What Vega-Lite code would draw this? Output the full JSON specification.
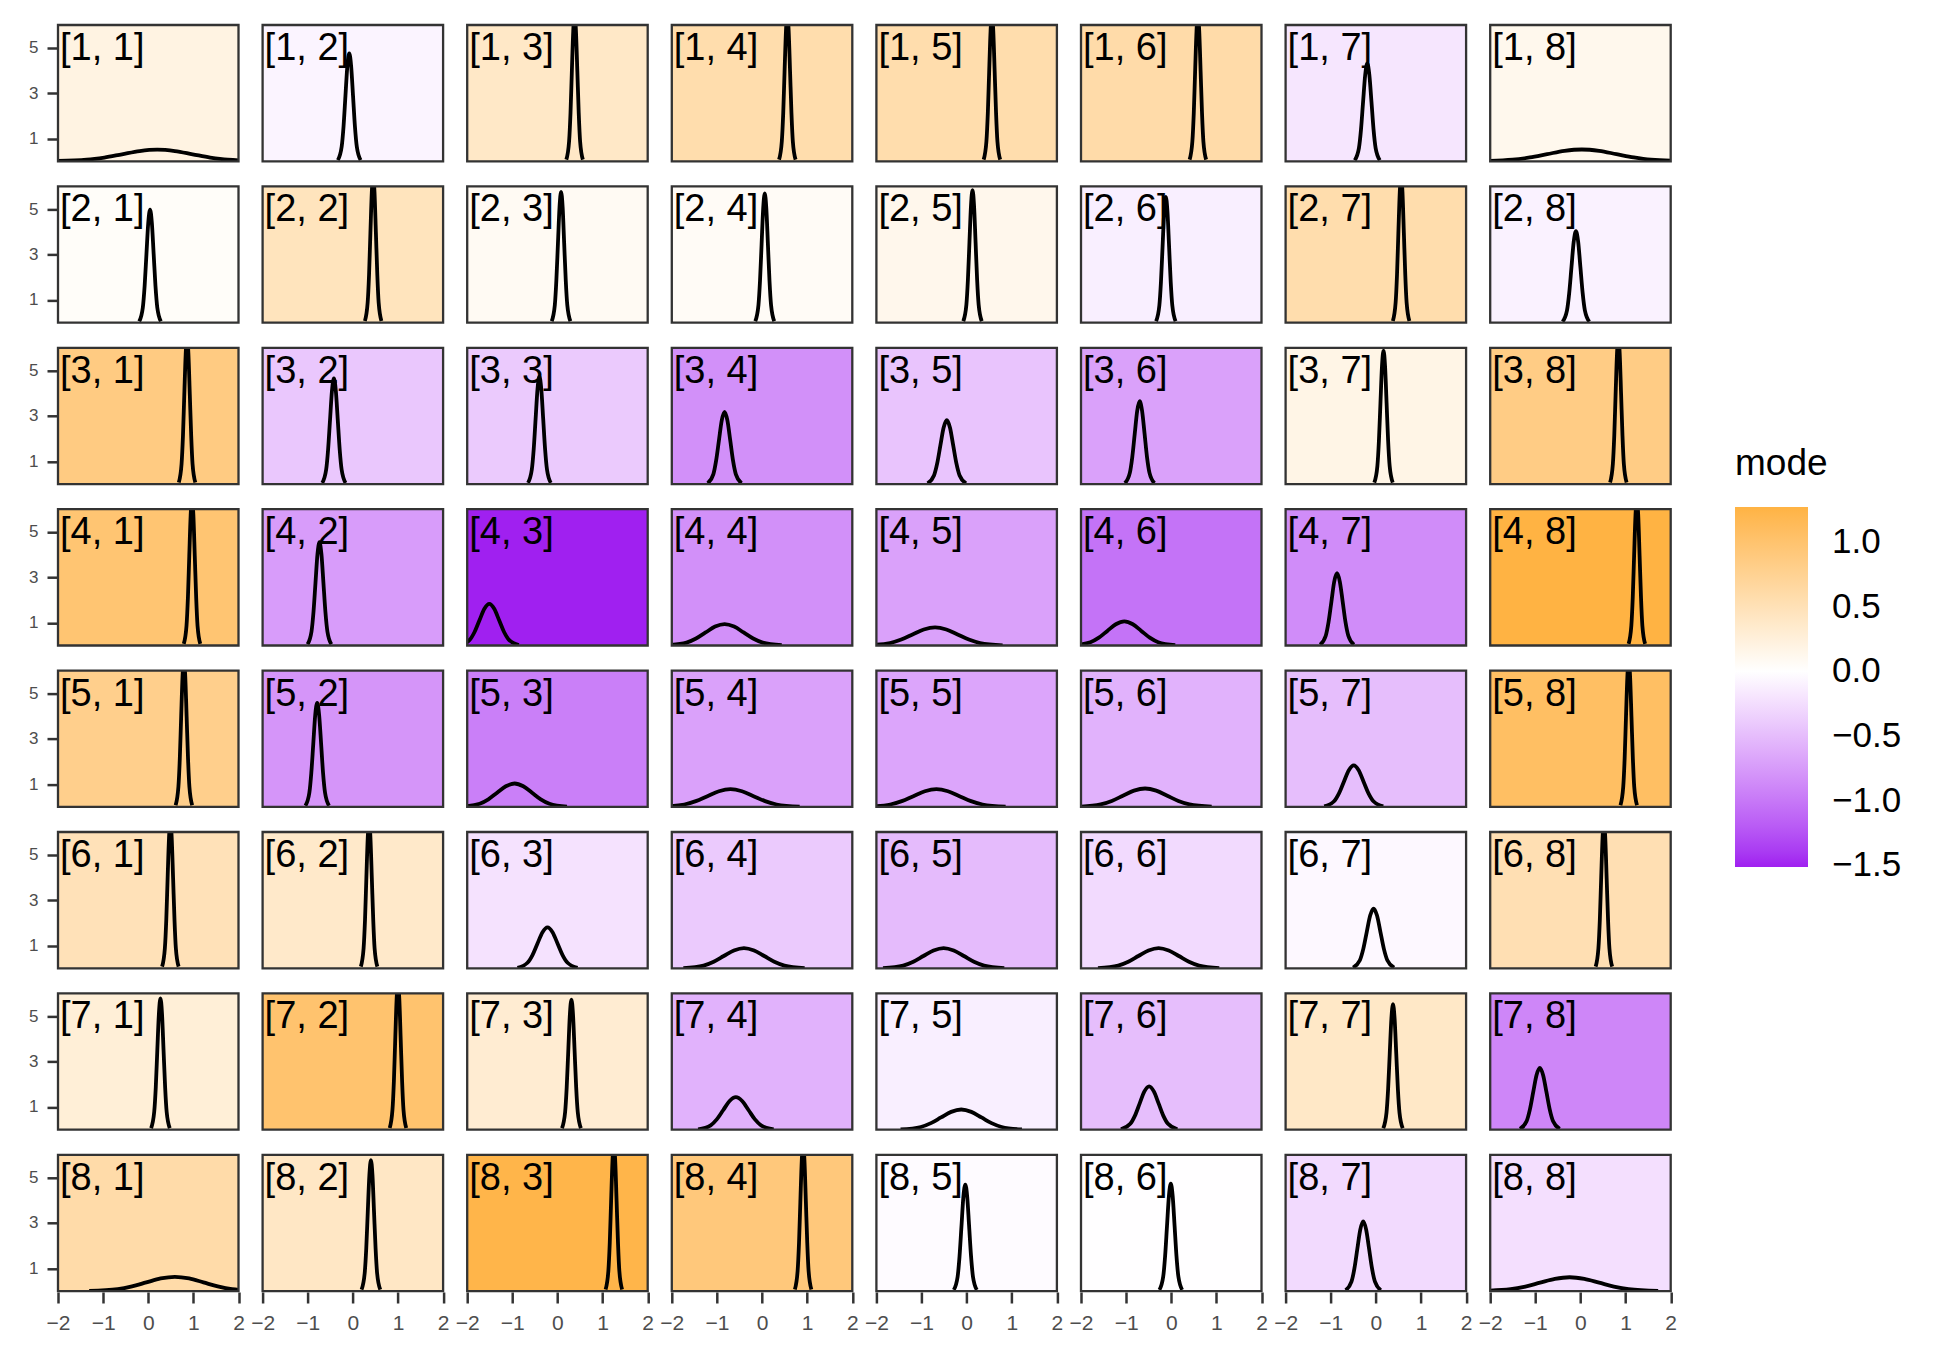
{
"$schema":"https://vega.github.io/schema/vega-lite/v6.json",
"padding":{"left":13,"top":23,"right":5,"bottom":5},
"bounds":"flush",
"data":{"values":[
{"r":1,"c":1,"m":0.2,"l":"[1, 1]"},{"r":1,"c":2,"m":-0.08,"l":"[1, 2]"},{"r":1,"c":3,"m":0.38,"l":"[1, 3]"},{"r":1,"c":4,"m":0.56,"l":"[1, 4]"},{"r":1,"c":5,"m":0.56,"l":"[1, 5]"},{"r":1,"c":6,"m":0.59,"l":"[1, 6]"},{"r":1,"c":7,"m":-0.19,"l":"[1, 7]"},{"r":1,"c":8,"m":0.12,"l":"[1, 8]"},
{"r":2,"c":1,"m":0.04,"l":"[2, 1]"},{"r":2,"c":2,"m":0.45,"l":"[2, 2]"},{"r":2,"c":3,"m":0.08,"l":"[2, 3]"},{"r":2,"c":4,"m":0.06,"l":"[2, 4]"},{"r":2,"c":5,"m":0.13,"l":"[2, 5]"},{"r":2,"c":6,"m":-0.12,"l":"[2, 6]"},{"r":2,"c":7,"m":0.56,"l":"[2, 7]"},{"r":2,"c":8,"m":-0.1,"l":"[2, 8]"},
{"r":3,"c":1,"m":0.86,"l":"[3, 1]"},{"r":3,"c":2,"m":-0.42,"l":"[3, 2]"},{"r":3,"c":3,"m":-0.4,"l":"[3, 3]"},{"r":3,"c":4,"m":-0.83,"l":"[3, 4]"},{"r":3,"c":5,"m":-0.44,"l":"[3, 5]"},{"r":3,"c":6,"m":-0.7,"l":"[3, 6]"},{"r":3,"c":7,"m":0.17,"l":"[3, 7]"},{"r":3,"c":8,"m":0.84,"l":"[3, 8]"},
{"r":4,"c":1,"m":0.97,"l":"[4, 1]"},{"r":4,"c":2,"m":-0.74,"l":"[4, 2]"},{"r":4,"c":3,"m":-1.513,"l":"[4, 3]"},{"r":4,"c":4,"m":-0.83,"l":"[4, 4]"},{"r":4,"c":5,"m":-0.7,"l":"[4, 5]"},{"r":4,"c":6,"m":-1.04,"l":"[4, 6]"},{"r":4,"c":7,"m":-0.86,"l":"[4, 7]"},{"r":4,"c":8,"m":1.27,"l":"[4, 8]"},
{"r":5,"c":1,"m":0.79,"l":"[5, 1]"},{"r":5,"c":2,"m":-0.79,"l":"[5, 2]"},{"r":5,"c":3,"m":-0.95,"l":"[5, 3]"},{"r":5,"c":4,"m":-0.7,"l":"[5, 4]"},{"r":5,"c":5,"m":-0.67,"l":"[5, 5]"},{"r":5,"c":6,"m":-0.58,"l":"[5, 6]"},{"r":5,"c":7,"m":-0.49,"l":"[5, 7]"},{"r":5,"c":8,"m":1.07,"l":"[5, 8]"},
{"r":6,"c":1,"m":0.49,"l":"[6, 1]"},{"r":6,"c":2,"m":0.36,"l":"[6, 2]"},{"r":6,"c":3,"m":-0.22,"l":"[6, 3]"},{"r":6,"c":4,"m":-0.4,"l":"[6, 4]"},{"r":6,"c":5,"m":-0.51,"l":"[6, 5]"},{"r":6,"c":6,"m":-0.28,"l":"[6, 6]"},{"r":6,"c":7,"m":-0.05,"l":"[6, 7]"},{"r":6,"c":8,"m":0.52,"l":"[6, 8]"},
{"r":7,"c":1,"m":0.27,"l":"[7, 1]"},{"r":7,"c":2,"m":1.0,"l":"[7, 2]"},{"r":7,"c":3,"m":0.31,"l":"[7, 3]"},{"r":7,"c":4,"m":-0.58,"l":"[7, 4]"},{"r":7,"c":5,"m":-0.12,"l":"[7, 5]"},{"r":7,"c":6,"m":-0.49,"l":"[7, 6]"},{"r":7,"c":7,"m":0.38,"l":"[7, 7]"},{"r":7,"c":8,"m":-0.9,"l":"[7, 8]"},
{"r":8,"c":1,"m":0.59,"l":"[8, 1]"},{"r":8,"c":2,"m":0.4,"l":"[8, 2]"},{"r":8,"c":3,"m":1.23,"l":"[8, 3]"},{"r":8,"c":4,"m":0.91,"l":"[8, 4]"},{"r":8,"c":5,"m":-0.03,"l":"[8, 5]"},{"r":8,"c":6,"m":-0.01,"l":"[8, 6]"},{"r":8,"c":7,"m":-0.28,"l":"[8, 7]"},{"r":8,"c":8,"m":-0.24,"l":"[8, 8]"},

{"r":1,"c":1,"x":-2.146,"y":0.006},{"r":1,"c":1,"x":-1.364,"y":0.069},{"r":1,"c":1,"x":-0.973,"y":0.166},{"r":1,"c":1,"x":-0.582,"y":0.309},{"r":1,"c":1,"x":-0.191,"y":0.45},{"r":1,"c":1,"x":0.2,"y":0.51},{"r":1,"c":1,"x":0.591,"y":0.45},{"r":1,"c":1,"x":0.982,"y":0.309},{"r":1,"c":1,"x":1.373,"y":0.166},{"r":1,"c":1,"x":1.764,"y":0.069},{"r":1,"c":1,"x":2.546,"y":0.006},
{"r":1,"c":2,"x":-0.332,"y":0.053},{"r":1,"c":2,"x":-0.248,"y":0.643},{"r":1,"c":2,"x":-0.206,"y":1.542},{"r":1,"c":2,"x":-0.164,"y":2.881},{"r":1,"c":2,"x":-0.122,"y":4.192},{"r":1,"c":2,"x":-0.08,"y":4.75},{"r":1,"c":2,"x":-0.038,"y":4.192},{"r":1,"c":2,"x":0.004,"y":2.881},{"r":1,"c":2,"x":0.046,"y":1.542},{"r":1,"c":2,"x":0.088,"y":0.643},{"r":1,"c":2,"x":0.172,"y":0.053},
{"r":1,"c":3,"x":0.197,"y":0.072},{"r":1,"c":3,"x":0.258,"y":0.879},{"r":1,"c":3,"x":0.289,"y":2.111},{"r":1,"c":3,"x":0.319,"y":3.942},{"r":1,"c":3,"x":0.35,"y":5.736},{"r":1,"c":3,"x":0.38,"y":6.5},{"r":1,"c":3,"x":0.41,"y":5.736},{"r":1,"c":3,"x":0.441,"y":3.942},{"r":1,"c":3,"x":0.472,"y":2.111},{"r":1,"c":3,"x":0.502,"y":0.879},{"r":1,"c":3,"x":0.563,"y":0.072},
{"r":1,"c":4,"x":0.377,"y":0.072},{"r":1,"c":4,"x":0.438,"y":0.879},{"r":1,"c":4,"x":0.469,"y":2.111},{"r":1,"c":4,"x":0.499,"y":3.942},{"r":1,"c":4,"x":0.53,"y":5.736},{"r":1,"c":4,"x":0.56,"y":6.5},{"r":1,"c":4,"x":0.59,"y":5.736},{"r":1,"c":4,"x":0.621,"y":3.942},{"r":1,"c":4,"x":0.652,"y":2.111},{"r":1,"c":4,"x":0.682,"y":0.879},{"r":1,"c":4,"x":0.743,"y":0.072},
{"r":1,"c":5,"x":0.377,"y":0.072},{"r":1,"c":5,"x":0.438,"y":0.879},{"r":1,"c":5,"x":0.469,"y":2.111},{"r":1,"c":5,"x":0.499,"y":3.942},{"r":1,"c":5,"x":0.53,"y":5.736},{"r":1,"c":5,"x":0.56,"y":6.5},{"r":1,"c":5,"x":0.59,"y":5.736},{"r":1,"c":5,"x":0.621,"y":3.942},{"r":1,"c":5,"x":0.652,"y":2.111},{"r":1,"c":5,"x":0.682,"y":0.879},{"r":1,"c":5,"x":0.743,"y":0.072},
{"r":1,"c":6,"x":0.407,"y":0.072},{"r":1,"c":6,"x":0.468,"y":0.879},{"r":1,"c":6,"x":0.499,"y":2.111},{"r":1,"c":6,"x":0.529,"y":3.942},{"r":1,"c":6,"x":0.56,"y":5.736},{"r":1,"c":6,"x":0.59,"y":6.5},{"r":1,"c":6,"x":0.62,"y":5.736},{"r":1,"c":6,"x":0.651,"y":3.942},{"r":1,"c":6,"x":0.682,"y":2.111},{"r":1,"c":6,"x":0.712,"y":0.879},{"r":1,"c":6,"x":0.773,"y":0.072},
{"r":1,"c":7,"x":-0.468,"y":0.048},{"r":1,"c":7,"x":-0.375,"y":0.583},{"r":1,"c":7,"x":-0.329,"y":1.399},{"r":1,"c":7,"x":-0.283,"y":2.614},{"r":1,"c":7,"x":-0.236,"y":3.804},{"r":1,"c":7,"x":-0.19,"y":4.31},{"r":1,"c":7,"x":-0.144,"y":3.804},{"r":1,"c":7,"x":-0.097,"y":2.614},{"r":1,"c":7,"x":-0.051,"y":1.399},{"r":1,"c":7,"x":-0.005,"y":0.583},{"r":1,"c":7,"x":0.088,"y":0.048},
{"r":1,"c":8,"x":-2.271,"y":0.006},{"r":1,"c":8,"x":-1.504,"y":0.07},{"r":1,"c":8,"x":-1.121,"y":0.169},{"r":1,"c":8,"x":-0.737,"y":0.315},{"r":1,"c":8,"x":-0.354,"y":0.459},{"r":1,"c":8,"x":0.03,"y":0.52},{"r":1,"c":8,"x":0.414,"y":0.459},{"r":1,"c":8,"x":0.797,"y":0.315},{"r":1,"c":8,"x":1.181,"y":0.169},{"r":1,"c":8,"x":1.564,"y":0.07},{"r":1,"c":8,"x":2.331,"y":0.006},

{"r":2,"c":1,"x":-0.2,"y":0.055},{"r":2,"c":1,"x":-0.12,"y":0.674},{"r":2,"c":1,"x":-0.08,"y":1.617},{"r":2,"c":1,"x":-0.04,"y":3.02},{"r":2,"c":1,"x":0,"y":4.395},{"r":2,"c":1,"x":0.04,"y":4.98},{"r":2,"c":1,"x":0.08,"y":4.395},{"r":2,"c":1,"x":0.12,"y":3.02},{"r":2,"c":1,"x":0.16,"y":1.617},{"r":2,"c":1,"x":0.2,"y":0.674},{"r":2,"c":1,"x":0.28,"y":0.055},
{"r":2,"c":2,"x":0.267,"y":0.072},{"r":2,"c":2,"x":0.328,"y":0.879},{"r":2,"c":2,"x":0.359,"y":2.111},{"r":2,"c":2,"x":0.389,"y":3.942},{"r":2,"c":2,"x":0.42,"y":5.736},{"r":2,"c":2,"x":0.45,"y":6.5},{"r":2,"c":2,"x":0.48,"y":5.736},{"r":2,"c":2,"x":0.511,"y":3.942},{"r":2,"c":2,"x":0.542,"y":2.111},{"r":2,"c":2,"x":0.572,"y":0.879},{"r":2,"c":2,"x":0.633,"y":0.072},
{"r":2,"c":3,"x":-0.127,"y":0.064},{"r":2,"c":3,"x":-0.058,"y":0.779},{"r":2,"c":3,"x":-0.024,"y":1.87},{"r":2,"c":3,"x":0.011,"y":3.493},{"r":2,"c":3,"x":0.046,"y":5.083},{"r":2,"c":3,"x":0.08,"y":5.76},{"r":2,"c":3,"x":0.115,"y":5.083},{"r":2,"c":3,"x":0.149,"y":3.493},{"r":2,"c":3,"x":0.184,"y":1.87},{"r":2,"c":3,"x":0.218,"y":0.779},{"r":2,"c":3,"x":0.287,"y":0.064},
{"r":2,"c":4,"x":-0.15,"y":0.063},{"r":2,"c":4,"x":-0.08,"y":0.77},{"r":2,"c":4,"x":-0.045,"y":1.848},{"r":2,"c":4,"x":-0.01,"y":3.451},{"r":2,"c":4,"x":0.025,"y":5.021},{"r":2,"c":4,"x":0.06,"y":5.69},{"r":2,"c":4,"x":0.095,"y":5.021},{"r":2,"c":4,"x":0.13,"y":3.451},{"r":2,"c":4,"x":0.165,"y":1.848},{"r":2,"c":4,"x":0.2,"y":0.77},{"r":2,"c":4,"x":0.27,"y":0.063},
{"r":2,"c":5,"x":-0.074,"y":0.065},{"r":2,"c":5,"x":-0.006,"y":0.789},{"r":2,"c":5,"x":0.028,"y":1.893},{"r":2,"c":5,"x":0.062,"y":3.536},{"r":2,"c":5,"x":0.096,"y":5.145},{"r":2,"c":5,"x":0.13,"y":5.83},{"r":2,"c":5,"x":0.164,"y":5.145},{"r":2,"c":5,"x":0.198,"y":3.536},{"r":2,"c":5,"x":0.232,"y":1.893},{"r":2,"c":5,"x":0.266,"y":0.789},{"r":2,"c":5,"x":0.334,"y":0.065},
{"r":2,"c":6,"x":-0.336,"y":0.061},{"r":2,"c":6,"x":-0.264,"y":0.75},{"r":2,"c":6,"x":-0.228,"y":1.799},{"r":2,"c":6,"x":-0.192,"y":3.36},{"r":2,"c":6,"x":-0.156,"y":4.889},{"r":2,"c":6,"x":-0.12,"y":5.54},{"r":2,"c":6,"x":-0.084,"y":4.889},{"r":2,"c":6,"x":-0.048,"y":3.36},{"r":2,"c":6,"x":-0.012,"y":1.799},{"r":2,"c":6,"x":0.024,"y":0.75},{"r":2,"c":6,"x":0.096,"y":0.061},
{"r":2,"c":7,"x":0.377,"y":0.072},{"r":2,"c":7,"x":0.438,"y":0.879},{"r":2,"c":7,"x":0.469,"y":2.111},{"r":2,"c":7,"x":0.499,"y":3.942},{"r":2,"c":7,"x":0.53,"y":5.736},{"r":2,"c":7,"x":0.56,"y":6.5},{"r":2,"c":7,"x":0.59,"y":5.736},{"r":2,"c":7,"x":0.621,"y":3.942},{"r":2,"c":7,"x":0.652,"y":2.111},{"r":2,"c":7,"x":0.682,"y":0.879},{"r":2,"c":7,"x":0.743,"y":0.072},
{"r":2,"c":8,"x":-0.397,"y":0.045},{"r":2,"c":8,"x":-0.298,"y":0.545},{"r":2,"c":8,"x":-0.249,"y":1.309},{"r":2,"c":8,"x":-0.199,"y":2.444},{"r":2,"c":8,"x":-0.15,"y":3.556},{"r":2,"c":8,"x":-0.1,"y":4.03},{"r":2,"c":8,"x":-0.05,"y":3.556},{"r":2,"c":8,"x":-0.001,"y":2.444},{"r":2,"c":8,"x":0.049,"y":1.309},{"r":2,"c":8,"x":0.098,"y":0.545},{"r":2,"c":8,"x":0.197,"y":0.045},

{"r":3,"c":1,"x":0.677,"y":0.072},{"r":3,"c":1,"x":0.738,"y":0.879},{"r":3,"c":1,"x":0.769,"y":2.111},{"r":3,"c":1,"x":0.799,"y":3.942},{"r":3,"c":1,"x":0.83,"y":5.736},{"r":3,"c":1,"x":0.86,"y":6.5},{"r":3,"c":1,"x":0.89,"y":5.736},{"r":3,"c":1,"x":0.921,"y":3.942},{"r":3,"c":1,"x":0.952,"y":2.111},{"r":3,"c":1,"x":0.982,"y":0.879},{"r":3,"c":1,"x":1.043,"y":0.072},
{"r":3,"c":2,"x":-0.678,"y":0.052},{"r":3,"c":2,"x":-0.592,"y":0.629},{"r":3,"c":2,"x":-0.549,"y":1.51},{"r":3,"c":2,"x":-0.506,"y":2.82},{"r":3,"c":2,"x":-0.463,"y":4.104},{"r":3,"c":2,"x":-0.42,"y":4.65},{"r":3,"c":2,"x":-0.377,"y":4.104},{"r":3,"c":2,"x":-0.334,"y":2.82},{"r":3,"c":2,"x":-0.291,"y":1.51},{"r":3,"c":2,"x":-0.248,"y":0.629},{"r":3,"c":2,"x":-0.162,"y":0.052},
{"r":3,"c":3,"x":-0.652,"y":0.053},{"r":3,"c":3,"x":-0.568,"y":0.64},{"r":3,"c":3,"x":-0.526,"y":1.536},{"r":3,"c":3,"x":-0.484,"y":2.869},{"r":3,"c":3,"x":-0.442,"y":4.174},{"r":3,"c":3,"x":-0.4,"y":4.73},{"r":3,"c":3,"x":-0.358,"y":4.174},{"r":3,"c":3,"x":-0.316,"y":2.869},{"r":3,"c":3,"x":-0.274,"y":1.536},{"r":3,"c":3,"x":-0.232,"y":0.64},{"r":3,"c":3,"x":-0.148,"y":0.053},
{"r":3,"c":4,"x":-1.205,"y":0.035},{"r":3,"c":4,"x":-1.08,"y":0.43},{"r":3,"c":4,"x":-1.018,"y":1.033},{"r":3,"c":4,"x":-0.955,"y":1.929},{"r":3,"c":4,"x":-0.893,"y":2.806},{"r":3,"c":4,"x":-0.83,"y":3.18},{"r":3,"c":4,"x":-0.768,"y":2.806},{"r":3,"c":4,"x":-0.705,"y":1.929},{"r":3,"c":4,"x":-0.643,"y":1.033},{"r":3,"c":4,"x":-0.58,"y":0.43},{"r":3,"c":4,"x":-0.455,"y":0.035},
{"r":3,"c":5,"x":-0.866,"y":0.031},{"r":3,"c":5,"x":-0.724,"y":0.38},{"r":3,"c":5,"x":-0.653,"y":0.912},{"r":3,"c":5,"x":-0.582,"y":1.704},{"r":3,"c":5,"x":-0.511,"y":2.48},{"r":3,"c":5,"x":-0.44,"y":2.81},{"r":3,"c":5,"x":-0.369,"y":2.48},{"r":3,"c":5,"x":-0.298,"y":1.704},{"r":3,"c":5,"x":-0.227,"y":0.912},{"r":3,"c":5,"x":-0.156,"y":0.38},{"r":3,"c":5,"x":-0.014,"y":0.031},
{"r":3,"c":6,"x":-1.027,"y":0.041},{"r":3,"c":6,"x":-0.918,"y":0.494},{"r":3,"c":6,"x":-0.864,"y":1.185},{"r":3,"c":6,"x":-0.809,"y":2.214},{"r":3,"c":6,"x":-0.755,"y":3.221},{"r":3,"c":6,"x":-0.7,"y":3.65},{"r":3,"c":6,"x":-0.646,"y":3.221},{"r":3,"c":6,"x":-0.591,"y":2.214},{"r":3,"c":6,"x":-0.537,"y":1.185},{"r":3,"c":6,"x":-0.482,"y":0.494},{"r":3,"c":6,"x":-0.373,"y":0.041},
{"r":3,"c":7,"x":-0.034,"y":0.065},{"r":3,"c":7,"x":0.034,"y":0.796},{"r":3,"c":7,"x":0.068,"y":1.909},{"r":3,"c":7,"x":0.102,"y":3.566},{"r":3,"c":7,"x":0.136,"y":5.189},{"r":3,"c":7,"x":0.17,"y":5.88},{"r":3,"c":7,"x":0.204,"y":5.189},{"r":3,"c":7,"x":0.238,"y":3.566},{"r":3,"c":7,"x":0.272,"y":1.909},{"r":3,"c":7,"x":0.306,"y":0.796},{"r":3,"c":7,"x":0.374,"y":0.065},
{"r":3,"c":8,"x":0.657,"y":0.072},{"r":3,"c":8,"x":0.718,"y":0.879},{"r":3,"c":8,"x":0.749,"y":2.111},{"r":3,"c":8,"x":0.779,"y":3.942},{"r":3,"c":8,"x":0.81,"y":5.736},{"r":3,"c":8,"x":0.84,"y":6.5},{"r":3,"c":8,"x":0.87,"y":5.736},{"r":3,"c":8,"x":0.901,"y":3.942},{"r":3,"c":8,"x":0.932,"y":2.111},{"r":3,"c":8,"x":0.962,"y":0.879},{"r":3,"c":8,"x":1.023,"y":0.072},

{"r":4,"c":1,"x":0.787,"y":0.072},{"r":4,"c":1,"x":0.848,"y":0.879},{"r":4,"c":1,"x":0.879,"y":2.111},{"r":4,"c":1,"x":0.909,"y":3.942},{"r":4,"c":1,"x":0.94,"y":5.736},{"r":4,"c":1,"x":0.97,"y":6.5},{"r":4,"c":1,"x":1.0,"y":5.736},{"r":4,"c":1,"x":1.031,"y":3.942},{"r":4,"c":1,"x":1.062,"y":2.111},{"r":4,"c":1,"x":1.092,"y":0.879},{"r":4,"c":1,"x":1.153,"y":0.072},
{"r":4,"c":2,"x":-1.004,"y":0.051},{"r":4,"c":2,"x":-0.916,"y":0.616},{"r":4,"c":2,"x":-0.872,"y":1.477},{"r":4,"c":2,"x":-0.828,"y":2.76},{"r":4,"c":2,"x":-0.784,"y":4.015},{"r":4,"c":2,"x":-0.74,"y":4.55},{"r":4,"c":2,"x":-0.696,"y":4.015},{"r":4,"c":2,"x":-0.652,"y":2.76},{"r":4,"c":2,"x":-0.608,"y":1.477},{"r":4,"c":2,"x":-0.564,"y":0.616},{"r":4,"c":2,"x":-0.476,"y":0.051},
{"r":4,"c":3,"x":-2.164,"y":0.02},{"r":4,"c":3,"x":-1.946,"y":0.248},{"r":4,"c":3,"x":-1.837,"y":0.594},{"r":4,"c":3,"x":-1.728,"y":1.11},{"r":4,"c":3,"x":-1.619,"y":1.615},{"r":4,"c":3,"x":-1.51,"y":1.83},{"r":4,"c":3,"x":-1.401,"y":1.615},{"r":4,"c":3,"x":-1.292,"y":1.11},{"r":4,"c":3,"x":-1.183,"y":0.594},{"r":4,"c":3,"x":-1.074,"y":0.248},{"r":4,"c":3,"x":-0.856,"y":0.02},
{"r":4,"c":4,"x":-2.096,"y":0.011},{"r":4,"c":4,"x":-1.674,"y":0.128},{"r":4,"c":4,"x":-1.463,"y":0.307},{"r":4,"c":4,"x":-1.252,"y":0.573},{"r":4,"c":4,"x":-1.041,"y":0.834},{"r":4,"c":4,"x":-0.83,"y":0.945},{"r":4,"c":4,"x":-0.619,"y":0.834},{"r":4,"c":4,"x":-0.408,"y":0.573},{"r":4,"c":4,"x":-0.197,"y":0.307},{"r":4,"c":4,"x":0.014,"y":0.128},{"r":4,"c":4,"x":0.436,"y":0.011},
{"r":4,"c":5,"x":-2.197,"y":0.009},{"r":4,"c":5,"x":-1.698,"y":0.108},{"r":4,"c":5,"x":-1.449,"y":0.26},{"r":4,"c":5,"x":-1.199,"y":0.485},{"r":4,"c":5,"x":-0.95,"y":0.706},{"r":4,"c":5,"x":-0.7,"y":0.8},{"r":4,"c":5,"x":-0.451,"y":0.706},{"r":4,"c":5,"x":-0.201,"y":0.485},{"r":4,"c":5,"x":0.049,"y":0.26},{"r":4,"c":5,"x":0.298,"y":0.108},{"r":4,"c":5,"x":0.797,"y":0.009},
{"r":4,"c":6,"x":-2.168,"y":0.012},{"r":4,"c":6,"x":-1.792,"y":0.143},{"r":4,"c":6,"x":-1.604,"y":0.344},{"r":4,"c":6,"x":-1.416,"y":0.643},{"r":4,"c":6,"x":-1.228,"y":0.935},{"r":4,"c":6,"x":-1.04,"y":1.06},{"r":4,"c":6,"x":-0.852,"y":0.935},{"r":4,"c":6,"x":-0.664,"y":0.643},{"r":4,"c":6,"x":-0.476,"y":0.344},{"r":4,"c":6,"x":-0.288,"y":0.143},{"r":4,"c":6,"x":0.088,"y":0.012},
{"r":4,"c":7,"x":-1.235,"y":0.035},{"r":4,"c":7,"x":-1.11,"y":0.43},{"r":4,"c":7,"x":-1.048,"y":1.033},{"r":4,"c":7,"x":-0.985,"y":1.929},{"r":4,"c":7,"x":-0.923,"y":2.806},{"r":4,"c":7,"x":-0.86,"y":3.18},{"r":4,"c":7,"x":-0.798,"y":2.806},{"r":4,"c":7,"x":-0.735,"y":1.929},{"r":4,"c":7,"x":-0.673,"y":1.033},{"r":4,"c":7,"x":-0.61,"y":0.43},{"r":4,"c":7,"x":-0.485,"y":0.035},
{"r":4,"c":8,"x":1.067,"y":0.072},{"r":4,"c":8,"x":1.128,"y":0.879},{"r":4,"c":8,"x":1.159,"y":2.111},{"r":4,"c":8,"x":1.189,"y":3.942},{"r":4,"c":8,"x":1.22,"y":5.736},{"r":4,"c":8,"x":1.25,"y":6.5},{"r":4,"c":8,"x":1.28,"y":5.736},{"r":4,"c":8,"x":1.311,"y":3.942},{"r":4,"c":8,"x":1.342,"y":2.111},{"r":4,"c":8,"x":1.372,"y":0.879},{"r":4,"c":8,"x":1.433,"y":0.072},

{"r":5,"c":1,"x":0.607,"y":0.072},{"r":5,"c":1,"x":0.668,"y":0.879},{"r":5,"c":1,"x":0.699,"y":2.111},{"r":5,"c":1,"x":0.729,"y":3.942},{"r":5,"c":1,"x":0.76,"y":5.736},{"r":5,"c":1,"x":0.79,"y":6.5},{"r":5,"c":1,"x":0.82,"y":5.736},{"r":5,"c":1,"x":0.851,"y":3.942},{"r":5,"c":1,"x":0.882,"y":2.111},{"r":5,"c":1,"x":0.912,"y":0.879},{"r":5,"c":1,"x":0.973,"y":0.072},
{"r":5,"c":2,"x":-1.051,"y":0.051},{"r":5,"c":2,"x":-0.964,"y":0.62},{"r":5,"c":2,"x":-0.921,"y":1.487},{"r":5,"c":2,"x":-0.877,"y":2.778},{"r":5,"c":2,"x":-0.834,"y":4.042},{"r":5,"c":2,"x":-0.79,"y":4.58},{"r":5,"c":2,"x":-0.747,"y":4.042},{"r":5,"c":2,"x":-0.703,"y":2.778},{"r":5,"c":2,"x":-0.66,"y":1.487},{"r":5,"c":2,"x":-0.616,"y":0.62},{"r":5,"c":2,"x":-0.529,"y":0.051},
{"r":5,"c":3,"x":-2.111,"y":0.011},{"r":5,"c":3,"x":-1.724,"y":0.139},{"r":5,"c":3,"x":-1.531,"y":0.334},{"r":5,"c":3,"x":-1.337,"y":0.625},{"r":5,"c":3,"x":-1.144,"y":0.909},{"r":5,"c":3,"x":-0.95,"y":1.03},{"r":5,"c":3,"x":-0.757,"y":0.909},{"r":5,"c":3,"x":-0.563,"y":0.625},{"r":5,"c":3,"x":-0.37,"y":0.334},{"r":5,"c":3,"x":-0.176,"y":0.139},{"r":5,"c":3,"x":0.211,"y":0.011},
{"r":5,"c":4,"x":-2.233,"y":0.009},{"r":5,"c":4,"x":-1.722,"y":0.106},{"r":5,"c":4,"x":-1.467,"y":0.253},{"r":5,"c":4,"x":-1.211,"y":0.473},{"r":5,"c":4,"x":-0.956,"y":0.688},{"r":5,"c":4,"x":-0.7,"y":0.78},{"r":5,"c":4,"x":-0.445,"y":0.688},{"r":5,"c":4,"x":-0.189,"y":0.473},{"r":5,"c":4,"x":0.067,"y":0.253},{"r":5,"c":4,"x":0.322,"y":0.106},{"r":5,"c":4,"x":0.833,"y":0.009},
{"r":5,"c":5,"x":-2.203,"y":0.009},{"r":5,"c":5,"x":-1.692,"y":0.106},{"r":5,"c":5,"x":-1.437,"y":0.253},{"r":5,"c":5,"x":-1.181,"y":0.473},{"r":5,"c":5,"x":-0.926,"y":0.688},{"r":5,"c":5,"x":-0.67,"y":0.78},{"r":5,"c":5,"x":-0.415,"y":0.688},{"r":5,"c":5,"x":-0.159,"y":0.473},{"r":5,"c":5,"x":0.097,"y":0.253},{"r":5,"c":5,"x":0.352,"y":0.106},{"r":5,"c":5,"x":0.863,"y":0.009},
{"r":5,"c":6,"x":-2.056,"y":0.009},{"r":5,"c":6,"x":-1.564,"y":0.11},{"r":5,"c":6,"x":-1.318,"y":0.263},{"r":5,"c":6,"x":-1.072,"y":0.491},{"r":5,"c":6,"x":-0.826,"y":0.715},{"r":5,"c":6,"x":-0.58,"y":0.81},{"r":5,"c":6,"x":-0.334,"y":0.715},{"r":5,"c":6,"x":-0.088,"y":0.491},{"r":5,"c":6,"x":0.158,"y":0.263},{"r":5,"c":6,"x":0.404,"y":0.11},{"r":5,"c":6,"x":0.896,"y":0.009},
{"r":5,"c":7,"x":-1.144,"y":0.02},{"r":5,"c":7,"x":-0.926,"y":0.248},{"r":5,"c":7,"x":-0.817,"y":0.594},{"r":5,"c":7,"x":-0.708,"y":1.11},{"r":5,"c":7,"x":-0.599,"y":1.615},{"r":5,"c":7,"x":-0.49,"y":1.83},{"r":5,"c":7,"x":-0.381,"y":1.615},{"r":5,"c":7,"x":-0.272,"y":1.11},{"r":5,"c":7,"x":-0.163,"y":0.594},{"r":5,"c":7,"x":-0.054,"y":0.248},{"r":5,"c":7,"x":0.164,"y":0.02},
{"r":5,"c":8,"x":0.887,"y":0.072},{"r":5,"c":8,"x":0.948,"y":0.879},{"r":5,"c":8,"x":0.979,"y":2.111},{"r":5,"c":8,"x":1.009,"y":3.942},{"r":5,"c":8,"x":1.04,"y":5.736},{"r":5,"c":8,"x":1.07,"y":6.5},{"r":5,"c":8,"x":1.1,"y":5.736},{"r":5,"c":8,"x":1.131,"y":3.942},{"r":5,"c":8,"x":1.162,"y":2.111},{"r":5,"c":8,"x":1.192,"y":0.879},{"r":5,"c":8,"x":1.253,"y":0.072},

{"r":6,"c":1,"x":0.307,"y":0.072},{"r":6,"c":1,"x":0.368,"y":0.879},{"r":6,"c":1,"x":0.399,"y":2.111},{"r":6,"c":1,"x":0.429,"y":3.942},{"r":6,"c":1,"x":0.46,"y":5.736},{"r":6,"c":1,"x":0.49,"y":6.5},{"r":6,"c":1,"x":0.52,"y":5.736},{"r":6,"c":1,"x":0.551,"y":3.942},{"r":6,"c":1,"x":0.582,"y":2.111},{"r":6,"c":1,"x":0.612,"y":0.879},{"r":6,"c":1,"x":0.673,"y":0.072},
{"r":6,"c":2,"x":0.177,"y":0.072},{"r":6,"c":2,"x":0.238,"y":0.879},{"r":6,"c":2,"x":0.269,"y":2.111},{"r":6,"c":2,"x":0.299,"y":3.942},{"r":6,"c":2,"x":0.33,"y":5.736},{"r":6,"c":2,"x":0.36,"y":6.5},{"r":6,"c":2,"x":0.39,"y":5.736},{"r":6,"c":2,"x":0.421,"y":3.942},{"r":6,"c":2,"x":0.452,"y":2.111},{"r":6,"c":2,"x":0.482,"y":0.879},{"r":6,"c":2,"x":0.543,"y":0.072},
{"r":6,"c":3,"x":-0.886,"y":0.02},{"r":6,"c":3,"x":-0.664,"y":0.244},{"r":6,"c":3,"x":-0.553,"y":0.584},{"r":6,"c":3,"x":-0.442,"y":1.092},{"r":6,"c":3,"x":-0.331,"y":1.589},{"r":6,"c":3,"x":-0.22,"y":1.8},{"r":6,"c":3,"x":-0.109,"y":1.589},{"r":6,"c":3,"x":0.002,"y":1.092},{"r":6,"c":3,"x":0.113,"y":0.584},{"r":6,"c":3,"x":0.224,"y":0.244},{"r":6,"c":3,"x":0.446,"y":0.02},
{"r":6,"c":4,"x":-1.744,"y":0.01},{"r":6,"c":4,"x":-1.296,"y":0.12},{"r":6,"c":4,"x":-1.072,"y":0.289},{"r":6,"c":4,"x":-0.848,"y":0.54},{"r":6,"c":4,"x":-0.624,"y":0.785},{"r":6,"c":4,"x":-0.4,"y":0.89},{"r":6,"c":4,"x":-0.176,"y":0.785},{"r":6,"c":4,"x":0.048,"y":0.54},{"r":6,"c":4,"x":0.272,"y":0.289},{"r":6,"c":4,"x":0.496,"y":0.12},{"r":6,"c":4,"x":0.944,"y":0.01},
{"r":6,"c":5,"x":-1.854,"y":0.01},{"r":6,"c":5,"x":-1.406,"y":0.12},{"r":6,"c":5,"x":-1.182,"y":0.289},{"r":6,"c":5,"x":-0.958,"y":0.54},{"r":6,"c":5,"x":-0.734,"y":0.785},{"r":6,"c":5,"x":-0.51,"y":0.89},{"r":6,"c":5,"x":-0.286,"y":0.785},{"r":6,"c":5,"x":-0.062,"y":0.54},{"r":6,"c":5,"x":0.162,"y":0.289},{"r":6,"c":5,"x":0.386,"y":0.12},{"r":6,"c":5,"x":0.834,"y":0.01},
{"r":6,"c":6,"x":-1.624,"y":0.01},{"r":6,"c":6,"x":-1.176,"y":0.12},{"r":6,"c":6,"x":-0.952,"y":0.289},{"r":6,"c":6,"x":-0.728,"y":0.54},{"r":6,"c":6,"x":-0.504,"y":0.785},{"r":6,"c":6,"x":-0.28,"y":0.89},{"r":6,"c":6,"x":-0.056,"y":0.785},{"r":6,"c":6,"x":0.168,"y":0.54},{"r":6,"c":6,"x":0.392,"y":0.289},{"r":6,"c":6,"x":0.616,"y":0.12},{"r":6,"c":6,"x":1.064,"y":0.01},
{"r":6,"c":7,"x":-0.506,"y":0.029},{"r":6,"c":7,"x":-0.354,"y":0.356},{"r":6,"c":7,"x":-0.278,"y":0.854},{"r":6,"c":7,"x":-0.202,"y":1.595},{"r":6,"c":7,"x":-0.126,"y":2.321},{"r":6,"c":7,"x":-0.05,"y":2.63},{"r":6,"c":7,"x":0.026,"y":2.321},{"r":6,"c":7,"x":0.102,"y":1.595},{"r":6,"c":7,"x":0.178,"y":0.854},{"r":6,"c":7,"x":0.254,"y":0.356},{"r":6,"c":7,"x":0.406,"y":0.029},
{"r":6,"c":8,"x":0.337,"y":0.072},{"r":6,"c":8,"x":0.398,"y":0.879},{"r":6,"c":8,"x":0.429,"y":2.111},{"r":6,"c":8,"x":0.459,"y":3.942},{"r":6,"c":8,"x":0.49,"y":5.736},{"r":6,"c":8,"x":0.52,"y":6.5},{"r":6,"c":8,"x":0.55,"y":5.736},{"r":6,"c":8,"x":0.581,"y":3.942},{"r":6,"c":8,"x":0.612,"y":2.111},{"r":6,"c":8,"x":0.642,"y":0.879},{"r":6,"c":8,"x":0.703,"y":0.072},

{"r":7,"c":1,"x":0.063,"y":0.064},{"r":7,"c":1,"x":0.132,"y":0.782},{"r":7,"c":1,"x":0.167,"y":1.877},{"r":7,"c":1,"x":0.201,"y":3.506},{"r":7,"c":1,"x":0.236,"y":5.101},{"r":7,"c":1,"x":0.27,"y":5.78},{"r":7,"c":1,"x":0.305,"y":5.101},{"r":7,"c":1,"x":0.339,"y":3.506},{"r":7,"c":1,"x":0.374,"y":1.877},{"r":7,"c":1,"x":0.408,"y":0.782},{"r":7,"c":1,"x":0.477,"y":0.064},
{"r":7,"c":2,"x":0.817,"y":0.072},{"r":7,"c":2,"x":0.878,"y":0.879},{"r":7,"c":2,"x":0.909,"y":2.111},{"r":7,"c":2,"x":0.939,"y":3.942},{"r":7,"c":2,"x":0.97,"y":5.736},{"r":7,"c":2,"x":1.0,"y":6.5},{"r":7,"c":2,"x":1.03,"y":5.736},{"r":7,"c":2,"x":1.061,"y":3.942},{"r":7,"c":2,"x":1.092,"y":2.111},{"r":7,"c":2,"x":1.122,"y":0.879},{"r":7,"c":2,"x":1.183,"y":0.072},
{"r":7,"c":3,"x":0.1,"y":0.064},{"r":7,"c":3,"x":0.17,"y":0.775},{"r":7,"c":3,"x":0.205,"y":1.861},{"r":7,"c":3,"x":0.24,"y":3.475},{"r":7,"c":3,"x":0.275,"y":5.057},{"r":7,"c":3,"x":0.31,"y":5.73},{"r":7,"c":3,"x":0.345,"y":5.057},{"r":7,"c":3,"x":0.38,"y":3.475},{"r":7,"c":3,"x":0.415,"y":1.861},{"r":7,"c":3,"x":0.45,"y":0.775},{"r":7,"c":3,"x":0.52,"y":0.064},
{"r":7,"c":4,"x":-1.417,"y":0.016},{"r":7,"c":4,"x":-1.138,"y":0.193},{"r":7,"c":4,"x":-0.999,"y":0.464},{"r":7,"c":4,"x":-0.859,"y":0.867},{"r":7,"c":4,"x":-0.72,"y":1.262},{"r":7,"c":4,"x":-0.58,"y":1.43},{"r":7,"c":4,"x":-0.441,"y":1.262},{"r":7,"c":4,"x":-0.301,"y":0.867},{"r":7,"c":4,"x":-0.162,"y":0.464},{"r":7,"c":4,"x":-0.022,"y":0.193},{"r":7,"c":4,"x":0.257,"y":0.016},
{"r":7,"c":5,"x":-1.464,"y":0.01},{"r":7,"c":5,"x":-1.016,"y":0.12},{"r":7,"c":5,"x":-0.792,"y":0.289},{"r":7,"c":5,"x":-0.568,"y":0.54},{"r":7,"c":5,"x":-0.344,"y":0.785},{"r":7,"c":5,"x":-0.12,"y":0.89},{"r":7,"c":5,"x":0.104,"y":0.785},{"r":7,"c":5,"x":0.328,"y":0.54},{"r":7,"c":5,"x":0.552,"y":0.289},{"r":7,"c":5,"x":0.776,"y":0.12},{"r":7,"c":5,"x":1.224,"y":0.01},
{"r":7,"c":6,"x":-1.117,"y":0.021},{"r":7,"c":6,"x":-0.908,"y":0.258},{"r":7,"c":6,"x":-0.804,"y":0.62},{"r":7,"c":6,"x":-0.699,"y":1.158},{"r":7,"c":6,"x":-0.595,"y":1.686},{"r":7,"c":6,"x":-0.49,"y":1.91},{"r":7,"c":6,"x":-0.386,"y":1.686},{"r":7,"c":6,"x":-0.281,"y":1.158},{"r":7,"c":6,"x":-0.177,"y":0.62},{"r":7,"c":6,"x":-0.072,"y":0.258},{"r":7,"c":6,"x":0.137,"y":0.021},
{"r":7,"c":7,"x":0.164,"y":0.061},{"r":7,"c":7,"x":0.236,"y":0.748},{"r":7,"c":7,"x":0.272,"y":1.796},{"r":7,"c":7,"x":0.308,"y":3.354},{"r":7,"c":7,"x":0.344,"y":4.88},{"r":7,"c":7,"x":0.38,"y":5.53},{"r":7,"c":7,"x":0.416,"y":4.88},{"r":7,"c":7,"x":0.452,"y":3.354},{"r":7,"c":7,"x":0.488,"y":1.796},{"r":7,"c":7,"x":0.524,"y":0.748},{"r":7,"c":7,"x":0.596,"y":0.061},
{"r":7,"c":8,"x":-1.341,"y":0.03},{"r":7,"c":8,"x":-1.194,"y":0.368},{"r":7,"c":8,"x":-1.121,"y":0.883},{"r":7,"c":8,"x":-1.047,"y":1.65},{"r":7,"c":8,"x":-0.974,"y":2.4},{"r":7,"c":8,"x":-0.9,"y":2.72},{"r":7,"c":8,"x":-0.827,"y":2.4},{"r":7,"c":8,"x":-0.753,"y":1.65},{"r":7,"c":8,"x":-0.68,"y":0.883},{"r":7,"c":8,"x":-0.606,"y":0.368},{"r":7,"c":8,"x":-0.459,"y":0.03},

{"r":8,"c":1,"x":-1.309,"y":0.007},{"r":8,"c":1,"x":-0.676,"y":0.085},{"r":8,"c":1,"x":-0.36,"y":0.205},{"r":8,"c":1,"x":-0.043,"y":0.382},{"r":8,"c":1,"x":0.274,"y":0.556},{"r":8,"c":1,"x":0.59,"y":0.63},{"r":8,"c":1,"x":0.907,"y":0.556},{"r":8,"c":1,"x":1.223,"y":0.382},{"r":8,"c":1,"x":1.54,"y":0.205},{"r":8,"c":1,"x":1.856,"y":0.085},{"r":8,"c":1,"x":2.489,"y":0.007},
{"r":8,"c":2,"x":0.193,"y":0.064},{"r":8,"c":2,"x":0.262,"y":0.781},{"r":8,"c":2,"x":0.297,"y":1.874},{"r":8,"c":2,"x":0.331,"y":3.5},{"r":8,"c":2,"x":0.366,"y":5.092},{"r":8,"c":2,"x":0.4,"y":5.77},{"r":8,"c":2,"x":0.435,"y":5.092},{"r":8,"c":2,"x":0.469,"y":3.5},{"r":8,"c":2,"x":0.504,"y":1.874},{"r":8,"c":2,"x":0.538,"y":0.781},{"r":8,"c":2,"x":0.607,"y":0.064},
{"r":8,"c":3,"x":1.067,"y":0.072},{"r":8,"c":3,"x":1.128,"y":0.879},{"r":8,"c":3,"x":1.159,"y":2.111},{"r":8,"c":3,"x":1.189,"y":3.942},{"r":8,"c":3,"x":1.22,"y":5.736},{"r":8,"c":3,"x":1.25,"y":6.5},{"r":8,"c":3,"x":1.28,"y":5.736},{"r":8,"c":3,"x":1.311,"y":3.942},{"r":8,"c":3,"x":1.342,"y":2.111},{"r":8,"c":3,"x":1.372,"y":0.879},{"r":8,"c":3,"x":1.433,"y":0.072},
{"r":8,"c":4,"x":0.727,"y":0.072},{"r":8,"c":4,"x":0.788,"y":0.879},{"r":8,"c":4,"x":0.819,"y":2.111},{"r":8,"c":4,"x":0.849,"y":3.942},{"r":8,"c":4,"x":0.88,"y":5.736},{"r":8,"c":4,"x":0.91,"y":6.5},{"r":8,"c":4,"x":0.94,"y":5.736},{"r":8,"c":4,"x":0.971,"y":3.942},{"r":8,"c":4,"x":1.002,"y":2.111},{"r":8,"c":4,"x":1.032,"y":0.879},{"r":8,"c":4,"x":1.093,"y":0.072},
{"r":8,"c":5,"x":-0.285,"y":0.052},{"r":8,"c":5,"x":-0.2,"y":0.635},{"r":8,"c":5,"x":-0.158,"y":1.523},{"r":8,"c":5,"x":-0.115,"y":2.844},{"r":8,"c":5,"x":-0.073,"y":4.139},{"r":8,"c":5,"x":-0.03,"y":4.69},{"r":8,"c":5,"x":0.013,"y":4.139},{"r":8,"c":5,"x":0.055,"y":2.844},{"r":8,"c":5,"x":0.098,"y":1.523},{"r":8,"c":5,"x":0.14,"y":0.635},{"r":8,"c":5,"x":0.225,"y":0.052},
{"r":8,"c":6,"x":-0.262,"y":0.053},{"r":8,"c":6,"x":-0.178,"y":0.64},{"r":8,"c":6,"x":-0.136,"y":1.536},{"r":8,"c":6,"x":-0.094,"y":2.869},{"r":8,"c":6,"x":-0.052,"y":4.174},{"r":8,"c":6,"x":-0.01,"y":4.73},{"r":8,"c":6,"x":0.032,"y":4.174},{"r":8,"c":6,"x":0.074,"y":2.869},{"r":8,"c":6,"x":0.116,"y":1.536},{"r":8,"c":6,"x":0.158,"y":0.64},{"r":8,"c":6,"x":0.242,"y":0.053},
{"r":8,"c":7,"x":-0.67,"y":0.034},{"r":8,"c":7,"x":-0.54,"y":0.415},{"r":8,"c":7,"x":-0.475,"y":0.997},{"r":8,"c":7,"x":-0.41,"y":1.862},{"r":8,"c":7,"x":-0.345,"y":2.709},{"r":8,"c":7,"x":-0.28,"y":3.07},{"r":8,"c":7,"x":-0.215,"y":2.709},{"r":8,"c":7,"x":-0.15,"y":1.862},{"r":8,"c":7,"x":-0.085,"y":0.997},{"r":8,"c":7,"x":-0.02,"y":0.415},{"r":8,"c":7,"x":0.11,"y":0.034},
{"r":8,"c":8,"x":-2.202,"y":0.007},{"r":8,"c":8,"x":-1.548,"y":0.083},{"r":8,"c":8,"x":-1.221,"y":0.198},{"r":8,"c":8,"x":-0.894,"y":0.37},{"r":8,"c":8,"x":-0.567,"y":0.538},{"r":8,"c":8,"x":-0.24,"y":0.61},{"r":8,"c":8,"x":0.087,"y":0.538},{"r":8,"c":8,"x":0.414,"y":0.37},{"r":8,"c":8,"x":0.741,"y":0.198},{"r":8,"c":8,"x":1.068,"y":0.083},{"r":8,"c":8,"x":1.722,"y":0.007}
]},
"facet":{
 "row":{"field":"r","type":"ordinal","header":{"title":null,"labels":false,"labelPadding":0,"titlePadding":0}},
 "column":{"field":"c","type":"ordinal","header":{"title":null,"labels":false,"labelPadding":0,"titlePadding":0}}
},
"spacing":{"row":24.4,"column":23.6},
"spec":{
 "width":180.5,"height":136.3,
 "layer":[
  {"transform":[{"filter":"isValid(datum.m)"}],
   "mark":{"type":"rect","stroke":null},
   "encoding":{
    "x":{"datum":-2,"type":"quantitative","scale":{"domain":[-2,2],"nice":false,"zero":false}},
    "x2":{"datum":2},
    "y":{"datum":0,"type":"quantitative","scale":{"domain":[0,6],"nice":false,"zero":false}},
    "y2":{"datum":6},
    "color":{"field":"m","type":"quantitative","title":"mode",
      "scale":{"domain":[-1.513,0,1.27],"range":["#A020F0","#FFFFFF","#FFB343"],"interpolate":"lab"},
      "legend":{"orient":"none","legendX":1677,"legendY":421,"direction":"vertical","gradientLength":360,"gradientThickness":73,
        "values":[-1.5,-1,-0.5,0,0.5,1],"format":".1f","titleFontSize":37,"titleFontWeight":"normal","titleColor":"black",
        "labelFontSize":35,"labelColor":"black","labelOffset":24,"titlePadding":24,"padding":0,"gradientStrokeWidth":0,"labelOverlap":false}}
   }},
  {"transform":[{"filter":"isValid(datum.y)"}],
   "mark":{"type":"line","clip":true,"color":"black","strokeWidth":3.8,"interpolate":"monotone"},
   "encoding":{
    "x":{"field":"x","type":"quantitative","axis":{"title":null,"values":[-2,-1,0,1,2],"format":"d","labelFlush":false,"labelOverlap":false,"labelFontSize":21,"labelColor":"#4D4D4D","tickSize":11,"tickWidth":2.5,"tickColor":"#333333","labelPadding":9,"domain":false,"grid":false}},
    "y":{"field":"y","type":"quantitative","axis":{"title":null,"values":[1,2,3,4,5,6],"format":"d","labelOverlap":false,"labelFontSize":17,"labelColor":"#4D4D4D","tickSize":11,"tickWidth":2.5,"tickColor":"#333333","labelPadding":9,"domain":false,"grid":false,"minExtent":45,"maxExtent":45}}}},
  {"transform":[{"filter":"isValid(datum.m)"}],
   "mark":{"type":"rect","filled":false,"stroke":"#333333","strokeWidth":2.3},
   "encoding":{"x":{"datum":-2,"type":"quantitative"},"x2":{"datum":2},"y":{"datum":0,"type":"quantitative"},"y2":{"datum":6}}},
  {"transform":[{"filter":"isValid(datum.m)"}],
   "mark":{"type":"text","align":"left","baseline":"top","dx":2,"dy":5,"fontSize":38,"color":"black"},
   "encoding":{"x":{"datum":-2,"type":"quantitative"},"y":{"datum":6,"type":"quantitative"},"text":{"field":"l","type":"nominal"}}}
 ]
},
"config":{
 "font":"Liberation Sans",
 "view":{"stroke":null},
 "axis":{"grid":false,"domain":false,"tickColor":"#333333","tickWidth":2.5,"tickSize":11,"labelColor":"#4D4D4D","labelPadding":9,"labelFont":"Liberation Sans","labelOverlap":false},
 "axisY":{"labelFontSize":17},
 "axisX":{"labelFontSize":21},
 "legend":{"titleFont":"Liberation Sans","labelFont":"Liberation Sans"}
}
}
